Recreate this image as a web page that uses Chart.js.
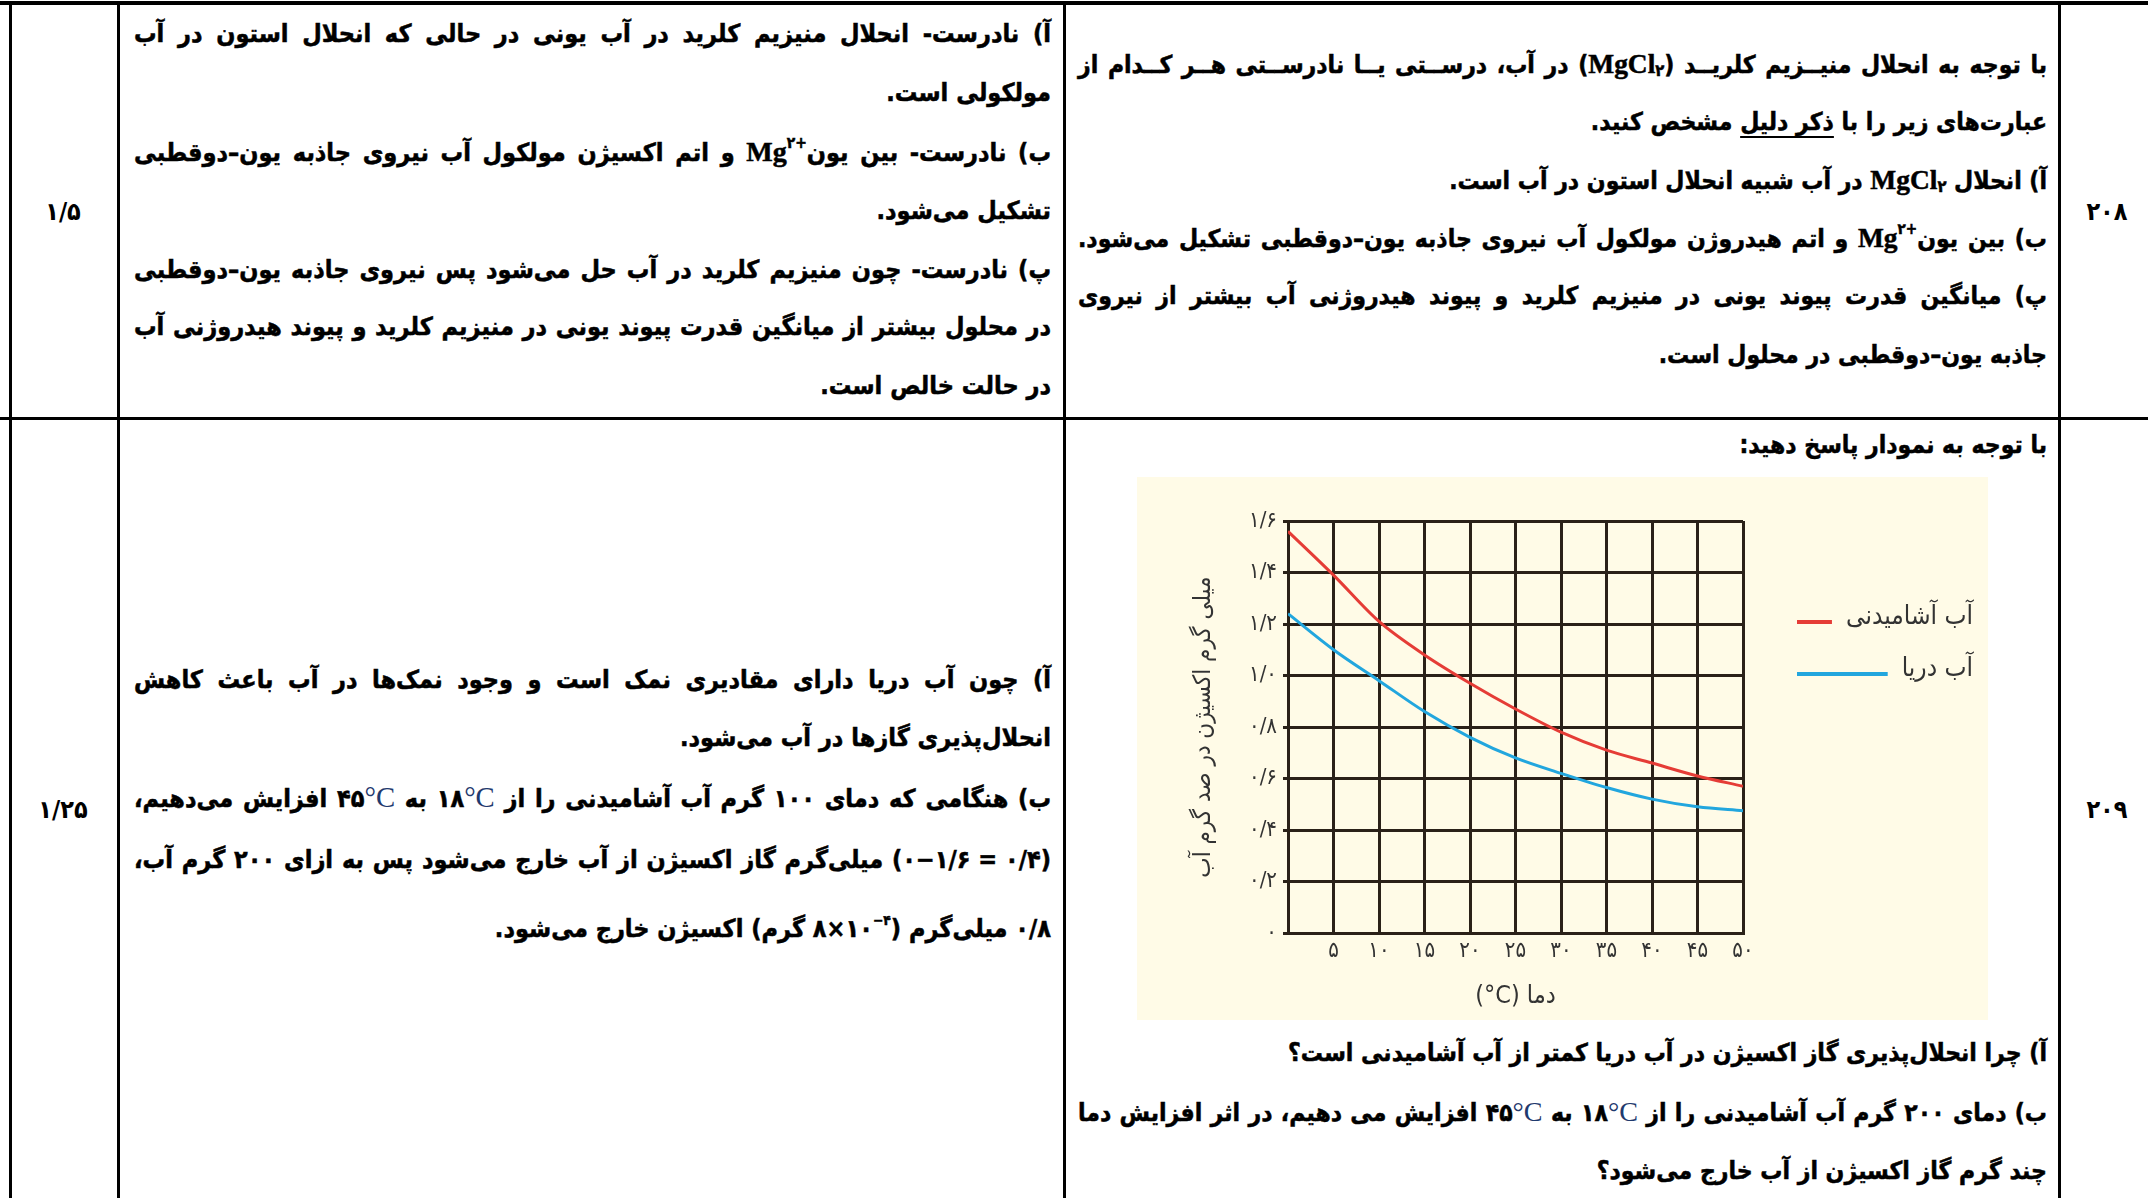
<!DOCTYPE html>
<html lang="fa" dir="rtl">
<head>
<meta charset="utf-8">
<title>انحلال پذیری اکسیژن</title>
<script src="https://cdn.jsdelivr.net/npm/chart.js@4.4.1/dist/chart.umd.min.js"></script>
<style>
  html, body { margin: 0; padding: 0; background: #fff; }
  body { width: 2148px; height: 1198px; position: relative; overflow: hidden;
         font-family: "DejaVu Sans Condensed", "DejaVu Sans", sans-serif; font-weight: bold; color: #000; }
  .rule { position: absolute; background: #000; }
  .ln { position: absolute; height: 44px; line-height: 44px; white-space: nowrap; overflow: visible;
        -webkit-text-stroke: 0.5px #000; }
  .full { text-align: justify; text-align-last: justify; }
  .part { text-align: right; }
  .num { position: absolute; width: 100px; height: 40px; line-height: 40px; text-align: center; font-size: 25px; }
  .lat { font-family: "Liberation Serif", serif; font-size: 1.12em; unicode-bidi: isolate; direction: ltr; }
  .sup { font-size: 0.55em; position: relative; top: -0.85em; vertical-align: baseline; line-height: 0;
         font-family: "DejaVu Sans Condensed", "DejaVu Sans", sans-serif; }
  .sub { font-size: 0.6em; position: relative; top: 0.2em; vertical-align: baseline; line-height: 0;
         font-family: "DejaVu Sans Condensed", "DejaVu Sans", sans-serif; }
  .ltr { display: inline-block; direction: ltr; unicode-bidi: bidi-override; }
  .deg { font-family: "Liberation Serif", serif; font-weight: normal; color: #1f3a6e; font-size: 1.15em;
         -webkit-text-stroke: 0; }
  .ul { text-decoration: underline; text-decoration-thickness: 2px; text-underline-offset: 6px; }
  #chartBox { position: absolute; left: 1137px; top: 477px; width: 851px; height: 543px; background: #fffbe7; }
  #chartBox canvas { display: block; }
</style>
</head>
<body>

<!-- table rules -->
<div class="rule" style="left:0;top:1px;width:2148px;height:4px"></div>
<div class="rule" style="left:0;top:417px;width:2148px;height:3px"></div>
<div class="rule" style="left:9px;top:1px;width:3px;height:1197px"></div>
<div class="rule" style="left:117px;top:1px;width:3px;height:1197px"></div>
<div class="rule" style="left:1063px;top:1px;width:3px;height:1197px"></div>
<div class="rule" style="left:2058px;top:1px;width:3px;height:1197px"></div>

<!-- row numbers and scores -->
<div class="num" style="left:2057px;top:192px">۲۰۸</div>
<div class="num" style="left:2057px;top:790px">۲۰۹</div>
<div class="num" style="left:13px;top:192px">۱/۵</div>
<div class="num" style="left:13px;top:790px">۱/۲۵</div>

<!-- question 208 -->
<div class="ln full q1" style="left:1078px;width:969px;top:42px">با توجه به انحلال منیــزیم کلریــد (<span class="lat">MgCl<span class="sub">۲</span></span>) در آب، درســتی یــا نادرســتی هــر کــدام از</div>
<div class="ln part q1" style="left:1078px;width:969px;top:100px">عبارت‌های زیر را با <span class="ul">ذکر دلیل</span> مشخص کنید.</div>
<div class="ln part q1" style="left:1078px;width:969px;top:158px">آ) انحلال <span class="lat">MgCl<span class="sub">۲</span></span> در آب شبیه انحلال استون در آب است.</div>
<div class="ln full q1" style="left:1078px;width:969px;top:216px">ب) بین یون<span class="lat">Mg<span class="sup">۲+</span></span> و اتم هیدروژن مولکول آب نیروی جاذبه یون–دوقطبی تشکیل می‌شود.</div>
<div class="ln full q1" style="left:1078px;width:969px;top:274px">پ) میانگین قدرت پیوند یونی در منیزیم کلرید و پیوند هیدروژنی آب بیشتر از نیروی</div>
<div class="ln part q1" style="left:1078px;width:969px;top:333px">جاذبه یون–دوقطبی در محلول است.</div>

<!-- answer 208 -->
<div class="ln full a1" style="left:134px;width:917px;top:12px">آ) نادرست- انحلال منیزیم کلرید در آب یونی در حالی که انحلال استون در آب</div>
<div class="ln part a1" style="left:134px;width:917px;top:71px">مولکولی است.</div>
<div class="ln full a1" style="left:134px;width:917px;top:130px">ب) نادرست- بین یون<span class="lat">Mg<span class="sup">۲+</span></span>  و اتم اکسیژن مولکول آب نیروی جاذبه یون–دوقطبی</div>
<div class="ln part a1" style="left:134px;width:917px;top:189px">تشکیل می‌شود.</div>
<div class="ln full a1" style="left:134px;width:917px;top:248px">پ) نادرست- چون منیزیم کلرید در آب حل می‌شود پس نیروی جاذبه یون–دوقطبی</div>
<div class="ln full a1" style="left:134px;width:917px;top:305px">در محلول بیشتر از میانگین قدرت پیوند یونی در منیزیم کلرید و پیوند هیدروژنی آب</div>
<div class="ln part a1" style="left:134px;width:917px;top:364px">در حالت خالص است.</div>

<!-- question 209 -->
<div class="ln part q1" style="left:1078px;width:969px;top:423px">با توجه به نمودار پاسخ دهید:</div>
<div id="chartBox"><canvas id="oxygenChart" width="851" height="543"></canvas></div>
<div class="ln part q1" style="left:1078px;width:969px;top:1031px">آ) چرا انحلال‌پذیری گاز اکسیژن در آب دریا کمتر از آب آشامیدنی است؟</div>
<div class="ln full q1" style="left:1078px;width:969px;top:1090px">ب) دمای ۲۰۰ گرم آب آشامیدنی را از <span class="ltr">۱۸<span class="deg">°C</span></span> به <span class="ltr">۴۵<span class="deg">°C</span></span> افزایش می دهیم، در اثر افزایش دما</div>
<div class="ln part q1" style="left:1078px;width:969px;top:1149px">چند گرم گاز اکسیژن از آب خارج می‌شود؟</div>

<!-- answer 209 -->
<div class="ln full a1" style="left:134px;width:917px;top:658px">آ) چون آب دریا دارای مقادیری نمک است و وجود نمک‌ها در آب باعث کاهش</div>
<div class="ln part a1" style="left:134px;width:917px;top:716px">انحلال‌پذیری گازها در آب می‌شود.</div>
<div class="ln full a1" style="left:134px;width:917px;top:775px">ب) هنگامی که دمای ۱۰۰ گرم آب آشامیدنی را از <span class="ltr">۱۸<span class="deg">°C</span></span> به <span class="ltr">۴۵<span class="deg">°C</span></span> افزایش می‌دهیم،</div>
<div class="ln full a1" style="left:134px;width:917px;top:838px"><span class="ltr">(۰−۱/۶ = ۰/۴)</span> میلی‌گرم گاز اکسیژن از آب خارج می‌شود پس به ازای ۲۰۰ گرم آب،</div>
<div class="ln part a1" style="left:134px;width:917px;top:907px">۰/۸ میلی‌گرم (<span class="ltr">۸×۱۰<span class="sup">−۴</span></span> گرم) اکسیژن خارج می‌شود.</div>

<script>
// temperature (°C) and dissolved oxygen (mg per 100 g water)
const temps = [0, 5, 10, 15, 20, 25, 30, 35, 40, 45, 50];
const drinkingWater = [1.56, 1.39, 1.21, 1.08, 0.97, 0.87, 0.78, 0.71, 0.66, 0.61, 0.57];
const seaWater = [1.24, 1.10, 0.98, 0.86, 0.76, 0.68, 0.62, 0.565, 0.52, 0.49, 0.475];

const seriesLabels = ["آب آشامیدنی", "آب دریا"];
const seriesColors = ["#e53c36", "#22a6de"];
const xTitle = "دما (\u2066°C\u2069)";
const yTitle = "میلی گرم اکسیژن در صد گرم آب";

const gridColor = "#2a2118";
const textColor = "#333333";
const fontFamily = '"DejaVu Sans Condensed", "DejaVu Sans", sans-serif';

const faDigits = "۰۱۲۳۴۵۶۷۸۹";
const fa = (s) => String(s).replace(/\d/g, (d) => faDigits[d]);

// shrink each text block until its longest line fits its cell
function fitLines(cls, start) {
  const lines = [...document.querySelectorAll("." + cls)];
  let size = start;
  const apply = () => lines.forEach((l) => (l.style.fontSize = size + "px"));
  apply();
  while (size > 14 && lines.some((l) => l.scrollWidth > l.clientWidth + 1)) {
    size -= 0.5;
    apply();
  }
}
fitLines("q1", 27);
fitLines("a1", 27);

const sideLegend = {
  id: "sideLegend",
  afterDraw(chart) {
    const ctx = chart.ctx;
    const rows = [145, 197];
    ctx.save();
    ctx.font = "26px " + fontFamily;
    ctx.textAlign = "right";
    ctx.textBaseline = "middle";
    chart.data.datasets.forEach((ds, i) => {
      const y = rows[i];
      const w = ctx.measureText(ds.label).width;
      ctx.fillStyle = "#333";
      ctx.fillText(ds.label, 836, y - 5);
      ctx.strokeStyle = ds.borderColor;
      ctx.lineWidth = 4;
      ctx.beginPath();
      ctx.moveTo(660, y);
      ctx.lineTo(836 - w - 14, y);
      ctx.stroke();
    });
    ctx.restore();
  },
};

const ctx = document.getElementById("oxygenChart").getContext("2d");

new Chart(ctx, {
  type: "line",
  data: {
    datasets: [
      {
        label: seriesLabels[0],
        data: temps.map((t, i) => ({ x: t, y: drinkingWater[i] })),
        borderColor: seriesColors[0],
        borderWidth: 3,
        pointRadius: 0,
        fill: false,
        cubicInterpolationMode: "monotone",
      },
      {
        label: seriesLabels[1],
        data: temps.map((t, i) => ({ x: t, y: seaWater[i] })),
        borderColor: seriesColors[1],
        borderWidth: 3,
        pointRadius: 0,
        fill: false,
        cubicInterpolationMode: "monotone",
      },
    ],
  },
  options: {
    responsive: false,
    animation: false,
    devicePixelRatio: 1,
    layout: { padding: { left: 50, top: 44, right: 245, bottom: 0 } },
    plugins: { legend: { display: false }, tooltip: { enabled: false } },
    scales: {
      x: {
        type: "linear",
        min: 0,
        max: 50,
        afterFit: (s) => { s.height = 87; },
        ticks: {
          stepSize: 5,
          padding: 5,
          color: textColor,
          font: { family: fontFamily, size: 22 },
          callback: (v) => (v === 0 ? "" : fa(v)),
        },
        grid: { color: gridColor, lineWidth: 3, drawTicks: false },
        border: { color: gridColor, width: 3 },
        title: {
          display: true,
          text: xTitle,
          color: textColor,
          font: { family: fontFamily, size: 25 },
          padding: { top: 0, bottom: 9 },
        },
      },
      y: {
        min: 0,
        max: 1.6,
        afterFit: (s) => { s.width = 101; },
        ticks: {
          stepSize: 0.2,
          padding: 6,
          color: textColor,
          font: { family: fontFamily, size: 22 },
          callback: (v) => (v === 0 ? "۰" : fa(v.toFixed(1).replace(".", "/"))),
        },
        grid: { color: gridColor, lineWidth: 3, tickLength: 5 },
        border: { color: gridColor, width: 3 },
        title: {
          display: true,
          text: yTitle,
          color: textColor,
          font: { family: fontFamily, size: 24 },
          padding: { top: 2, bottom: 2 },
        },
      },
    },
  },
  plugins: [sideLegend],
});
</script>
</body>
</html>
